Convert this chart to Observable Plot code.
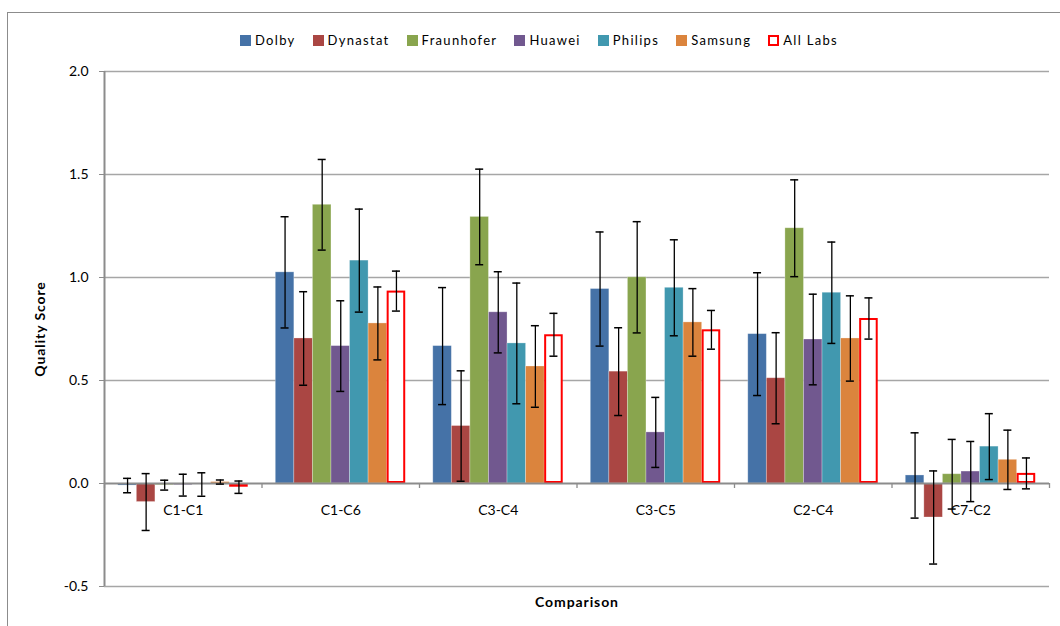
<!DOCTYPE html>
<html>
<head>
<meta charset="utf-8">
<script src="https://cdn.jsdelivr.net/npm/d3@7"></script>
<script src="https://cdn.jsdelivr.net/npm/@observablehq/plot@0.6"></script>
<style>
  html, body { margin: 0; padding: 0; background: #fff; overflow: hidden; }
  #wrap { position: relative; width: 1060px; height: 626px; font-family: Lato, "Open Sans", sans-serif; }
  #border { position: absolute; left: 7px; top: 12px; width: 1080px; height: 720px; border: 1px solid #8c8c8c; box-sizing: border-box; }
  #legend { position: absolute; top: 32px; left: 240px; display: flex; gap: 17px; font-size: 13px; letter-spacing: 1.3px; line-height: 16px; color: #000; }
  #legend .item { display: flex; align-items: center; gap: 4px; }
  #legend .sw { display: inline-block; width: 11px; height: 11px; box-sizing: border-box; }
  #chart { position: absolute; left: 0; top: 56px; }
  #chart .title text { letter-spacing: 0.9px; }
</style>
</head>
<body>
<div id="wrap">
  <div id="border"></div>
  <div id="legend"></div>
  <div id="chart"></div>
</div>
<script>
// ---- data ----
const categories = ["C1-C1", "C1-C6", "C3-C4", "C3-C5", "C2-C4", "C7-C2"];
const labs = ["Dolby", "Dynastat", "Fraunhofer", "Huawei", "Philips", "Samsung", "All Labs"];

const dolby         = [-0.010, 1.025, 0.667, 0.944, 0.725, 0.039];
const dolbyErr      = [ 0.035, 0.270, 0.284, 0.277, 0.298, 0.207];
const dynastat      = [-0.090, 0.704, 0.279, 0.543, 0.511, -0.165];
const dynastatErr   = [ 0.138, 0.227, 0.268, 0.213, 0.221, 0.226];
const fraunhofer    = [-0.008, 1.353, 1.294, 1.001, 1.239, 0.045];
const fraunhoferErr = [ 0.024, 0.220, 0.232, 0.270, 0.235, 0.169];
const huawei        = [-0.008, 0.667, 0.831, 0.248, 0.699, 0.058];
const huaweiErr     = [ 0.053, 0.220, 0.197, 0.170, 0.220, 0.146];
const philips       = [-0.005, 1.082, 0.680, 0.950, 0.926, 0.179];
const philipsErr    = [ 0.057, 0.250, 0.293, 0.233, 0.246, 0.160];
const samsung       = [ 0.007, 0.777, 0.568, 0.782, 0.704, 0.115];
const samsungErr    = [ 0.010, 0.177, 0.198, 0.164, 0.207, 0.144];
const allLabs       = [-0.018, 0.934, 0.722, 0.746, 0.801, 0.049];
const allLabsErr    = [ 0.030, 0.097, 0.104, 0.094, 0.100, 0.075];

const yTicks = [-0.5, 0.0, 0.5, 1.0, 1.5, 2.0];

// ---- styles ----
const palette = ["#4572A7", "#AA4643", "#89A54E", "#71588F", "#4198AF", "#DB843D"];
const allColor = "#ff0000";
const axisGray = "#8c8c8c";
const gridGray = "#a6a6a6";

// ---- table built from the arrays ----
const scores = [dolby, dynastat, fraunhofer, huawei, philips, samsung, allLabs];
const errors = [dolbyErr, dynastatErr, fraunhoferErr, huaweiErr, philipsErr, samsungErr, allLabsErr];
const rows = labs.flatMap((lab, li) => categories.map((cat, ci) => ({
  cat, ci, lab, li, value: scores[li][ci], err: errors[li][ci]
})));
const labRows = rows.filter(d => d.lab !== "All Labs");
const allRows = rows.filter(d => d.lab === "All Labs");

// grouped (dodged) position within each category band
const groupFrac = 0.825;
const barFrac = groupFrac / labs.length;
const groupPad = (1 - groupFrac) / 2;
const bx1 = d => d.ci + groupPad + d.li * barFrac;
const bx2 = d => d.ci + groupPad + (d.li + 1) * barFrac;
const bxc = d => d.ci + groupPad + (d.li + 0.5) * barFrac;
const lo = d => d.value - d.err;
const hi = d => d.value + d.err;

const chart = Plot.plot({
  width: 1060,
  height: 570,
  marginLeft: 104,
  marginRight: 11,
  marginTop: 15,
  marginBottom: 40,
  style: {fontFamily: "Lato, 'Open Sans', sans-serif", fontSize: "14px", background: "transparent", overflow: "visible", color: "#000"},
  x: {domain: [0, categories.length], axis: null},
  y: {domain: [-0.5, 2], axis: null},
  color: {domain: labs.slice(0, 6), range: palette},
  marks: [
    Plot.ruleY(yTicks.filter(t => t !== 0), {stroke: gridGray, strokeWidth: 1.3}),
    Plot.rectY(labRows, {x1: bx1, x2: bx2, y1: 0, y2: "value", fill: "lab", stroke: "#ffffff", strokeOpacity: 0.35, strokeWidth: 0.8}),
    Plot.rectY(allRows, {x1: bx1, x2: bx2, y1: 0, y2: "value", fill: "#ffffff", stroke: allColor, strokeWidth: 2, inset: 1}),
    Plot.ruleY([0], {stroke: axisGray, strokeWidth: 2}),
    Plot.ruleX(d3.range(categories.length + 1), {x: d => d, y1: 0, y2: 0, insetTop: 0, insetBottom: -5, stroke: axisGray, strokeWidth: 1.3}),
    Plot.ruleX([0], {stroke: axisGray, strokeWidth: 2}),
    Plot.ruleX(rows, {x: bxc, y1: lo, y2: hi, stroke: "#000", strokeWidth: 1.3}),
    Plot.ruleY(rows, {y: lo, x1: bxc, x2: bxc, insetLeft: -4, insetRight: -4, stroke: "#000", strokeWidth: 1.5}),
    Plot.ruleY(rows, {y: hi, x1: bxc, x2: bxc, insetLeft: -4, insetRight: -4, stroke: "#000", strokeWidth: 1.5}),
    Plot.axisY({ticks: yTicks, tickFormat: d => d.toFixed(1), tickSize: 5, tickPadding: 11, stroke: axisGray, fill: "#000", fontSize: 14, label: null}),
    Plot.text(categories, {x: (d, i) => i + 0.5, y: 0, dy: 27, fontSize: 14, fill: "#000"}),
    Plot.text(["Quality Score"], {frameAnchor: "left", rotate: -90, dx: -64, textAnchor: "middle", lineAnchor: "middle", fontWeight: "bold", fontSize: 14, fill: "#000", className: "title"}),
    Plot.text(["Comparison"], {frameAnchor: "bottom", dy: 16, textAnchor: "middle", lineAnchor: "middle", fontWeight: "bold", fontSize: 14, fill: "#000", className: "title"})
  ]
});
document.getElementById("chart").appendChild(chart);

// ---- legend ----
const legend = d3.select("#legend");
labs.forEach((lab, i) => {
  const item = legend.append("div").attr("class", "item");
  const sw = item.append("span").attr("class", "sw");
  if (lab === "All Labs") {
    sw.style("background", "#fff").style("border", `2px solid ${allColor}`);
  } else {
    sw.style("background", palette[i]);
  }
  item.append("span").text(lab);
});
</script>
</body>
</html>
